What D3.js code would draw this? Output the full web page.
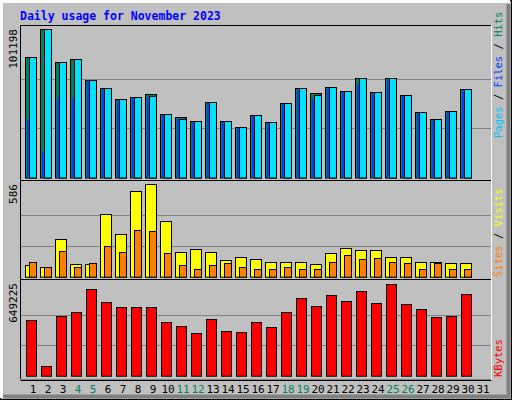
<!DOCTYPE html>
<html><head><meta charset="utf-8">
<script src="https://cdn.jsdelivr.net/npm/d3@7"></script>
<style>body{margin:0;background:#fff}text{font-family:"DejaVu Sans Mono",monospace}</style>
</head><body><svg id="c" width="512" height="400"></svg>
<script>
var days = d3.range(1, 32);
var weekends = [4, 5, 11, 12, 18, 19, 25, 26];
var hits = [82490, 101198, 78670, 80720, 66380, 60910, 53400, 54770, 56820, 43160, 41110, 38380, 51350, 38380, 34280, 42480, 37700, 50670, 60910, 57500, 61600, 58870, 67740, 58180, 67740, 56130, 44520, 39740, 45210, 60230];
var files = [82490, 101198, 78670, 80720, 66380, 60910, 53400, 54770, 55800, 43160, 40100, 38380, 51350, 38380, 34280, 42480, 37700, 50670, 60910, 56500, 61600, 58870, 67740, 58180, 67740, 56130, 44520, 39740, 45210, 60230];
var pages = [39740, 17210, 54090, 54090, 65700, 60200, 52700, 54100, 54800, 42500, 40400, 37700, 50700, 37700, 33600, 41800, 37000, 50000, 59500, 53400, 60900, 58200, 63600, 57500, 66400, 55400, 43800, 39000, 44500, 58900];
var visits = [72, 60, 237, 79, 79, 396, 269, 542, 586, 351, 155, 174, 155, 104, 123, 110, 91, 91, 91, 79, 148, 180, 167, 167, 123, 123, 91, 91, 85, 85];
var sites = [91, 60, 161, 60, 85, 193, 155, 294, 288, 148, 72, 47, 72, 85, 60, 47, 47, 60, 47, 47, 91, 136, 110, 117, 91, 85, 47, 85, 47, 47];
var kbytes = [393500, 66800, 421900, 450300, 613700, 521400, 485900, 485900, 485900, 379300, 350900, 301200, 400600, 315400, 308300, 379300, 343800, 450300, 549800, 492900, 571100, 528500, 599500, 514300, 649225, 507200, 471600, 414800, 421900, 578200];

var svg = d3.select('#c');
// frame
svg.append('rect').attr('x', 0.5).attr('y', 0.5).attr('width', 511).attr('height', 399).attr('fill', '#c0c0c0').attr('stroke', '#000');
svg.append('path').attr('d', 'M1.5,398V1.5H510').attr('fill', 'none').attr('stroke', '#fff').attr('stroke-width', 3);
svg.append('path').attr('d', 'M3,396.5H508.5V4').attr('fill', 'none').attr('stroke', '#808080').attr('stroke-width', 4);

svg.append('text').attr('x', 20).attr('y', 20).attr('fill', '#0000ff').attr('font-size', 11.5).attr('font-weight', 'bold').text('Daily usage for November 2023');

var x = d3.scaleLinear().domain([1, 32]).range([25, 490]);

var panels = [
  {top: 25, bottom: 180, base: 177.5, peak: 29.3, max: 101198},
  {top: 180, bottom: 279, base: 276.7, peak: 184.3, max: 586},
  {top: 279, bottom: 379, base: 375.7, peak: 284.3, max: 649225}
];
panels.forEach(function (p) {
  p.y = d3.scaleLinear().domain([0, p.max]).range([p.base, p.peak]);
  var g = svg.append('g');
  g.append('rect').attr('x', 20.5).attr('y', p.top + 0.5).attr('width', 471).attr('height', p.bottom - p.top)
    .attr('fill', '#c0c0c0').attr('stroke', '#000');
  var step = (p.base - p.peak) / 3;
  [1, 2].forEach(function (k) {
    g.append('line').attr('x1', 21).attr('x2', 491).attr('y1', Math.round(p.base - step * k) + 0.5).attr('y2', Math.round(p.base - step * k) + 0.5)
      .attr('stroke', '#808080');
  });
  svg.append('text').attr('transform', 'translate(17,' + (p.top + 4) + ') rotate(-90)').attr('text-anchor', 'end')
    .attr('font-size', 11).attr('font-family', 'DejaVu Sans').text(p.max);
});
svg.append('path').attr('d', 'M491.5,25V380H20').attr('fill', 'none').attr('stroke', '#fff');
svg.append('path').attr('d', 'M20.5,380.5H491.5').attr('stroke', '#000');

function bars(sel, data, panel, dx, w, color) {
  sel.selectAll(null).data(data).enter().append('rect')
    .attr('x', function (d, i) { return Math.round(x(i + 1)) + dx + 0.5; })
    .attr('y', function (d) { return Math.round(panel.y(d)) + 0.5; })
    .attr('width', w)
    .attr('height', function (d) { return panel.base - Math.round(panel.y(d)); })
    .attr('fill', color).attr('stroke', '#000');
}
var g1 = svg.append('g');
bars(g1, hits, panels[0], 0, 11, '#00805c');
bars(g1, files, panels[0], 4, 7, '#00e0ff');
g1.selectAll(null).data(pages).enter().append('rect')
  .attr('x', function (d, i) { return Math.round(x(i + 1)) + 2; })
  .attr('y', function (d) { return panels[0].y(d); })
  .attr('width', 2).attr('height', function (d) { return panels[0].base - panels[0].y(d); })
  .attr('fill', '#0040ff');
var g2 = svg.append('g');
bars(g2, visits, panels[1], 0, 11, '#ffff00');
bars(g2, sites, panels[1], 4, 7, '#ff8000');
var g3 = svg.append('g');
bars(g3, kbytes, panels[2], 1, 10, '#ff0000');

svg.selectAll('.day').data(days).enter().append('text')
  .attr('x', function (d) { return x(d) + 8; }).attr('y', 393).attr('text-anchor', 'middle')
  .attr('font-size', 11).attr('font-family', 'DejaVu Sans')
  .attr('fill', function (d) { return weekends.indexOf(d) >= 0 ? '#00805c' : '#000'; })
  .text(function (d) { return d; });

function sideLabel(y, parts) {
  var t = svg.append('text').attr('transform', 'translate(502,' + y + ') rotate(-90)').attr('font-size', 10.5);
  parts.forEach(function (p) { t.append('tspan').attr('fill', p[1]).text(p[0]); });
}
sideLabel(138, [['Pages', '#00c0ff'], [' / ', '#000'], ['Files', '#0040ff'], [' / ', '#000'], ['Hits', '#00805c']]);
sideLabel(277, [['Sites', '#ff8000'], [' / ', '#000'], ['Visits', '#ffff00']]);
sideLabel(377, [['KBytes', '#ff0000']]);
</script></body></html>
